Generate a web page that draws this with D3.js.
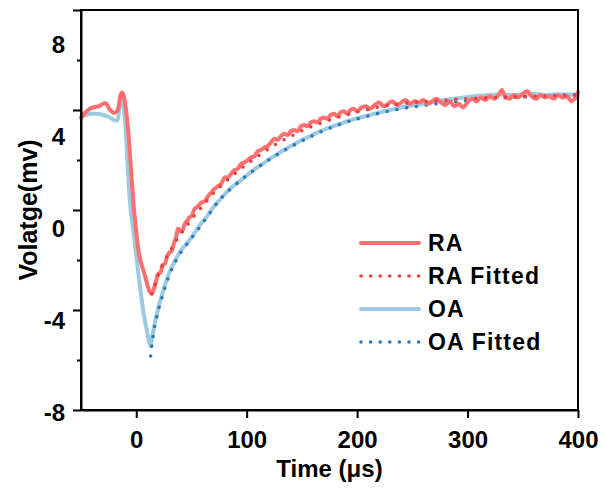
<!DOCTYPE html>
<html lang="en">
    <head>
        <meta charset="utf-8">
        <title>Voltage recovery</title>
        <script src="https://d3js.org/d3.v7.min.js"></script>
        <style>
            body { margin: 0; background: #fff; }
            text { font-family: "Liberation Sans", Arial, sans-serif; font-weight: bold; fill: #000; }
        </style>
    </head>

    <body>
        <div id="vis"></div>

        <script>

            // RA raw trace
            const raTime = [-50,-46,-42,-38,-34,-31,-28,-26,-24,-21,-18,-16,-14.5,-13,-11.5,-10,-8,-6,-4,-2,0,2,4,6,8,10,12,14,16,18,20,22,24,26,28,30,32,34,36,38,40,42,44,46,48,50,53,56,59,62,65,68,71,74,77,80,83,86,89,92,95,98,101,104,107,110,113,116,119,122,125,128,131,134,137,140,143,146,149,152,155,158,161,164,167,170,173,176,179,182,185,188,191,194,197,200,204,208,212,216,220,224,228,232,236,240,244,248,252,256,260,264,268,272,276,280,284,288,292,296,300,304,308,312,316,320,324,328,331,334,338,342,346,350,354,358,362,366,370,374,378,382,386,390,394,397,400];
            const raVolt = [3.68,3.9,4.05,4.12,4.15,4.22,4.27,4.18,4.02,3.9,3.92,4.1,4.55,4.7,4.6,4.25,3.5,2.45,1.2,0.0,-0.85,-1.6,-2.05,-2.35,-2.65,-2.98,-3.25,-3.35,-3.15,-2.85,-2.55,-2.5,-2.2,-2.15,-1.85,-1.7,-1.65,-1.35,-1.1,-0.75,-0.85,-0.8,-0.55,-0.45,-0.3,-0.25,0.05,0.15,0.3,0.35,0.55,0.7,0.85,0.95,1.05,1.3,1.3,1.45,1.6,1.65,1.85,1.9,2.0,2.1,2.15,2.35,2.4,2.5,2.55,2.7,2.85,2.8,2.95,3.05,3.0,3.15,3.2,3.15,3.35,3.4,3.35,3.5,3.55,3.5,3.65,3.7,3.65,3.8,3.85,3.75,3.9,3.95,3.85,4.0,4.05,3.95,4.1,4.15,4.05,4.2,4.3,4.15,4.25,4.35,4.2,4.3,4.4,4.25,4.35,4.3,4.4,4.25,4.35,4.45,4.3,4.2,4.35,4.15,4.25,4.1,4.3,4.45,4.35,4.5,4.4,4.55,4.45,4.6,4.8,4.55,4.45,4.6,4.5,4.65,4.75,4.55,4.45,4.6,4.5,4.55,4.45,4.6,4.5,4.55,4.35,4.45,4.72];

            // RA fitted
            const raFitTime = [14,16,18,20,25,30,35,40,45,50,55,60,65,70,75,80,90,100,110,120,130,140,150,160,170,180,190,200,220,240,260,280,300,320,340,360,380,400];
            const raFitVolt = [-3.35,-3.1,-2.85,-2.6,-2.1,-1.7,-1.32,-0.98,-0.68,-0.38,-0.1,0.15,0.42,0.68,0.9,1.1,1.48,1.83,2.15,2.45,2.72,2.95,3.17,3.36,3.52,3.67,3.8,3.92,4.12,4.25,4.33,4.4,4.45,4.49,4.52,4.55,4.57,4.59];

            // OA raw trace
            const oaTime = [-50,-46,-42,-38,-34,-30,-26,-22,-19,-17,-15.5,-14,-13,-12,-10,-8.5,-7,-5,-3,-1,1,3,5,7,9.5,11.5,13,14.5,16,18,21,25,30,35,40,45,50,55,60,65,70,75,80,85,90,95,100,105,110,115,120,125,130,135,140,145,150,155,160,165,170,175,180,185,190,195,200,210,220,230,240,250,260,270,280,290,300,310,320,330,340,350,360,370,380,390,400];
            const oaVolt = [3.72,3.8,3.85,3.85,3.84,3.8,3.75,3.65,3.58,3.6,4.0,4.5,4.6,4.3,3.5,2.4,1.2,0.0,-0.7,-1.45,-2.2,-2.9,-3.6,-4.2,-4.8,-5.25,-5.45,-5.1,-4.7,-4.3,-3.75,-3.15,-2.5,-2.05,-1.65,-1.38,-1.1,-0.78,-0.47,-0.2,0.12,0.38,0.62,0.85,1.03,1.2,1.38,1.55,1.72,1.86,2.02,2.16,2.3,2.43,2.56,2.68,2.8,2.9,3.01,3.12,3.21,3.3,3.38,3.46,3.53,3.6,3.67,3.78,3.9,4.0,4.1,4.18,4.25,4.33,4.4,4.46,4.52,4.57,4.6,4.62,4.6,4.62,4.64,4.6,4.63,4.62,4.6];

            // OA fitted
            const oaFitTime = [13,14,15,17,19,21,24,27,30,35,40,45,50,55,60,65,70,75,80,90,100,110,120,130,140,150,160,170,180,190,200,220,240,260,280,300,320,340,360,380,400];
            const oaFitVolt = [-5.84,-5.45,-5.1,-4.6,-4.2,-3.85,-3.4,-2.98,-2.6,-2.1,-1.72,-1.42,-1.13,-0.84,-0.53,-0.24,0.1,0.37,0.62,1.02,1.38,1.7,2.0,2.28,2.53,2.76,2.98,3.18,3.35,3.51,3.64,3.87,4.05,4.18,4.29,4.37,4.44,4.5,4.54,4.58,4.62];

            // axis ticks
            const xTicks = [0, 100, 200, 300, 400];
            const yMajor = [-8, -4, 0, 4, 8];
            const yMinor = [-6, -2, 2, 6];
            const legendNames = ["RA", "RA Fitted", "OA", "OA Fitted"];

            const width = 606;
            const height = 490;
            const plotLeft = 81, plotRight = 578, plotTop = 10, plotBottom = 410;

            const svg = d3.select("#vis")
                    .append("svg")
                    .attr('width', width)
                    .attr('height', height);

            const xScale = d3.scaleLinear().domain([-50, 400]).range([plotLeft, plotRight]);
            const yScale = d3.scaleLinear().domain([-8, 8]).range([plotBottom, plotTop]);
            // the tick labels in the figure sit a bit off their ticks
            const yLabelScale = d3.scaleLinear().domain([-8, 8]).range([413, 45]);

            function pairs(t, v){
                return t.map(function(d, i){ return [d, v[i]]; });
            }

            // plain hyphen for negatives, like the figure
            function plain(d){ return String(d); }

            const line = d3.line()
                    .x(function(d){ return xScale(d[0]); })
                    .y(function(d){ return yScale(d[1]); })
                    .curve(d3.curveCatmullRom);

            const series = [
                {name: "OA", data: pairs(oaTime, oaVolt), color: "#9ecae1", dotted: false},
                {name: "OA Fitted", data: pairs(oaFitTime, oaFitVolt), color: "#2a7ab8", dotted: true},
                {name: "RA", data: pairs(raTime, raVolt), color: "#ff6f6f", dotted: false},
                {name: "RA Fitted", data: pairs(raFitTime, raFitVolt), color: "#ef3e3e", dotted: true}
            ];

            series.forEach(function(s){
                const p = svg.append('path')
                    .attr('d', line(s.data))
                    .attr('fill', 'none')
                    .attr('stroke', s.color)
                    .attr('stroke-linecap', 'round')
                    .attr('stroke-linejoin', 'round');
                if (s.dotted){
                    p.attr('stroke-width', 3.6).attr('stroke-dasharray', '0 9.9');
                } else {
                    p.attr('stroke-width', 4);
                }
            });

            // frame
            svg.append('rect')
                .attr('x', plotLeft).attr('y', plotTop)
                .attr('width', plotRight - plotLeft).attr('height', plotBottom - plotTop)
                .attr('fill', 'none')
                .attr('stroke', '#000')
                .attr('stroke-width', 2);

            // x axis
            const xAxis = svg.append('g')
                .attr('transform', `translate(0, ${plotBottom})`)
                .call(d3.axisBottom(xScale).tickValues(xTicks).tickFormat(plain).tickSize(8).tickPadding(13).tickSizeOuter(0));
            xAxis.select('.domain').attr('stroke-width', 2);
            xAxis.selectAll('line').attr('stroke-width', 2);
            xAxis.selectAll('text').style('font-size', '24px');

            // y axis, major and minor ticks
            const yAxis = svg.append('g')
                .attr('transform', `translate(${plotLeft}, 0)`)
                .call(d3.axisLeft(yScale).tickValues(yMajor).tickSize(8).tickFormat('').tickSizeOuter(0));
            yAxis.select('.domain').attr('stroke-width', 2);
            yAxis.selectAll('line').attr('stroke-width', 2);

            const yMinorAxis = svg.append('g')
                .attr('transform', `translate(${plotLeft}, 0)`)
                .call(d3.axisLeft(yScale).tickValues(yMinor).tickSize(4).tickFormat('').tickSizeOuter(0));
            yMinorAxis.select('.domain').remove();
            yMinorAxis.selectAll('line').attr('stroke-width', 2);

            const yLabels = svg.append('g')
                .attr('transform', `translate(${plotLeft}, 0)`)
                .call(d3.axisLeft(yLabelScale).tickValues(yMajor).tickFormat(plain).tickSize(0).tickPadding(16));
            yLabels.select('.domain').remove();
            yLabels.selectAll('text').style('font-size', '24px');

            // axis titles
            svg.append('text')
                .attr('x', (plotLeft + plotRight) / 2)
                .attr('y', 477)
                .attr('text-anchor', 'middle')
                .style('font-size', '24px')
                .text('Time (μs)');

            svg.append('text')
                .attr('transform', `translate(37, ${(plotTop + plotBottom) / 2}) rotate(-90)`)
                .attr('text-anchor', 'middle')
                .style('font-size', '25px')
                .text('Volatge(mv)');

            // legend
            const legendColors = {"RA": "#ff6f6f", "RA Fitted": "#ef3e3e", "OA": "#9ecae1", "OA Fitted": "#2a7ab8"};
            const legend = svg.append('g');
            legendNames.forEach(function(name, i){
                const y = 243 + i * 33;
                const dotted = name.indexOf('Fitted') >= 0;
                legend.append('line')
                    .attr('x1', 361).attr('x2', 419)
                    .attr('y1', y).attr('y2', y)
                    .attr('stroke', legendColors[name])
                    .attr('stroke-linecap', 'round')
                    .attr('stroke-width', dotted ? 3.6 : 4)
                    .attr('stroke-dasharray', dotted ? '0 9.6' : null);
                legend.append('text')
                    .attr('x', 428)
                    .attr('y', y + 8)
                    .style('font-size', '23px')
                    .style('letter-spacing', '1.2px')
                    .text(name);
            });

        </script>
    </body>
</html>
